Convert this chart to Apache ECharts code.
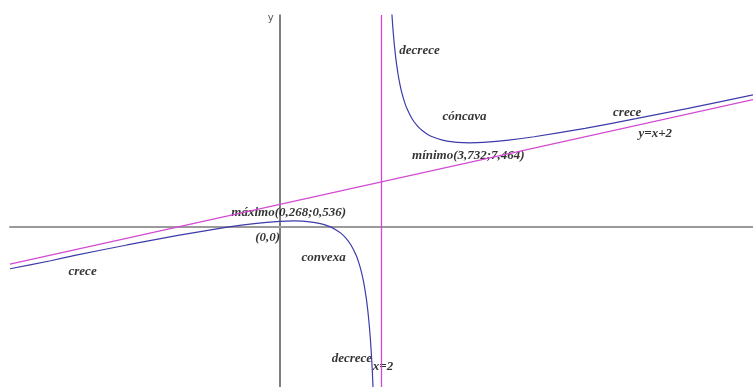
<!DOCTYPE html>
<html>
<head>
<meta charset="utf-8">
<script src="https://cdn.jsdelivr.net/npm/echarts@6/dist/echarts.min.js"></script>
<style>
  html, body { margin: 0; padding: 0; background: #fff; }
  #chart { width: 753px; height: 387px; }
</style>
</head>
<body>
<div id="chart"></div>
<script>
// curve, left branch (x < 2) and right branch (x > 2)
var leftBranch = [
  [-5.3, -3.71], [-4.5, -3.0], [-4, -2.5], [-3, -1.6], [-2, -0.75], [-1, 0],
  [-0.5, 0.3], [0, 0.5], [0.268, 0.536], [0.5, 0.5], [0.8, 0.3], [1.0, 0],
  [1.1, -0.25], [1.2, -0.55], [1.3, -0.99], [1.4, -1.6], [1.5, -2.5],
  [1.55, -3.12], [1.6, -3.9], [1.65, -4.92], [1.7, -6.3], [1.73, -7.38],
  [1.76, -8.74], [1.78, -9.86], [1.8, -11.2], [1.82, -12.85], [1.84, -14.91],
  [1.86, -17.6]
];
var rightBranch = [
  [2.14, 25.6], [2.16, 22.9], [2.18, 20.8], [2.2, 19.2], [2.22, 17.86],
  [2.25, 16.25], [2.28, 15.0], [2.32, 13.7], [2.36, 12.7], [2.4, 11.9],
  [2.45, 11.12], [2.5, 10.5], [2.6, 9.6], [2.7, 8.99], [2.8, 8.55],
  [2.9, 8.23], [3, 8.0], [3.2, 7.7], [3.4, 7.54], [3.6, 7.47], [3.732, 7.464],
  [4, 7.5], [4.5, 7.7], [5, 8.0], [6, 8.75], [7, 9.6], [8, 10.5], [9.3, 11.71]
];
// asymptotes
var obliqueAsym = [[-5.3, -3.3], [9.3, 11.3]];
var verticalAsym = [[2, -14.2], [2, 18.8]];

// annotations: [x, y, text]
var notes = [
  [2.35, 15.6, 'decrece'],
  [3.2, 9.8, 'cóncava'],
  [6.55, 10.15, 'crece'],
  [7.05, 8.3, 'y=x+2'],
  [2.6, 6.35, 'mínimo(3,732;7,464)'],
  [-0.95, 1.25, 'máximo(0,268;0,536)'],
  [-0.48, -0.95, '(0,0)'],
  [0.43, -2.75, 'convexa'],
  [-4.15, -4.0, 'crece'],
  [1.02, -11.7, 'decrece'],
  [1.83, -12.4, 'x=2']
];

var xMin = -5.3, xMax = 9.3, yMin = -14.2, yMax = 18.8;

var myChart = echarts.init(document.getElementById('chart'));
var option = {
  animation: false,
  grid: { left: 10, right: 0, top: 15, bottom: 0 },
  xAxis: {
    type: 'value',
    min: xMin,
    max: xMax,
    axisLine: { onZero: true, lineStyle: { color: '#9a9a9a', width: 2 } },
    axisTick: { show: false },
    axisLabel: { show: false },
    splitLine: { show: false }
  },
  yAxis: {
    type: 'value',
    min: yMin,
    max: yMax,
    name: 'y',
    nameGap: -8,
    nameTextStyle: { color: '#555', fontSize: 10, fontFamily: 'DejaVu Sans', align: 'right', padding: [0, 6, 0, 0] },
    axisLine: { onZero: true, lineStyle: { color: '#555', width: 1.5 } },
    axisTick: { show: false },
    axisLabel: { show: false },
    splitLine: { show: false }
  },
  series: [
    {
      type: 'line',
      data: obliqueAsym,
      symbol: 'none',
      lineStyle: { color: '#d24ad2', width: 1.3 }
    },
    {
      type: 'line',
      data: verticalAsym,
      symbol: 'none',
      lineStyle: { color: '#d24ad2', width: 1.3 }
    },
    {
      type: 'line',
      data: leftBranch,
      symbol: 'none',
      smooth: 0.2,
      lineStyle: { color: '#3c3caa', width: 1.2 }
    },
    {
      type: 'line',
      data: rightBranch,
      symbol: 'none',
      smooth: 0.2,
      lineStyle: { color: '#3c3caa', width: 1.2 }
    },
    {
      type: 'scatter',
      symbolSize: 0,
      data: notes.map(function (n) { return { value: [n[0], n[1]], name: n[2] }; }),
      label: {
        show: true,
        position: 'right',
        distance: 0,
        formatter: function (p) { return p.name; },
        color: '#000',
        fontFamily: 'Liberation Serif',
        fontStyle: 'italic',
        fontWeight: 'bold',
        fontSize: 13
      }
    }
  ]
};
myChart.setOption(option, true);
</script>
</body>
</html>
